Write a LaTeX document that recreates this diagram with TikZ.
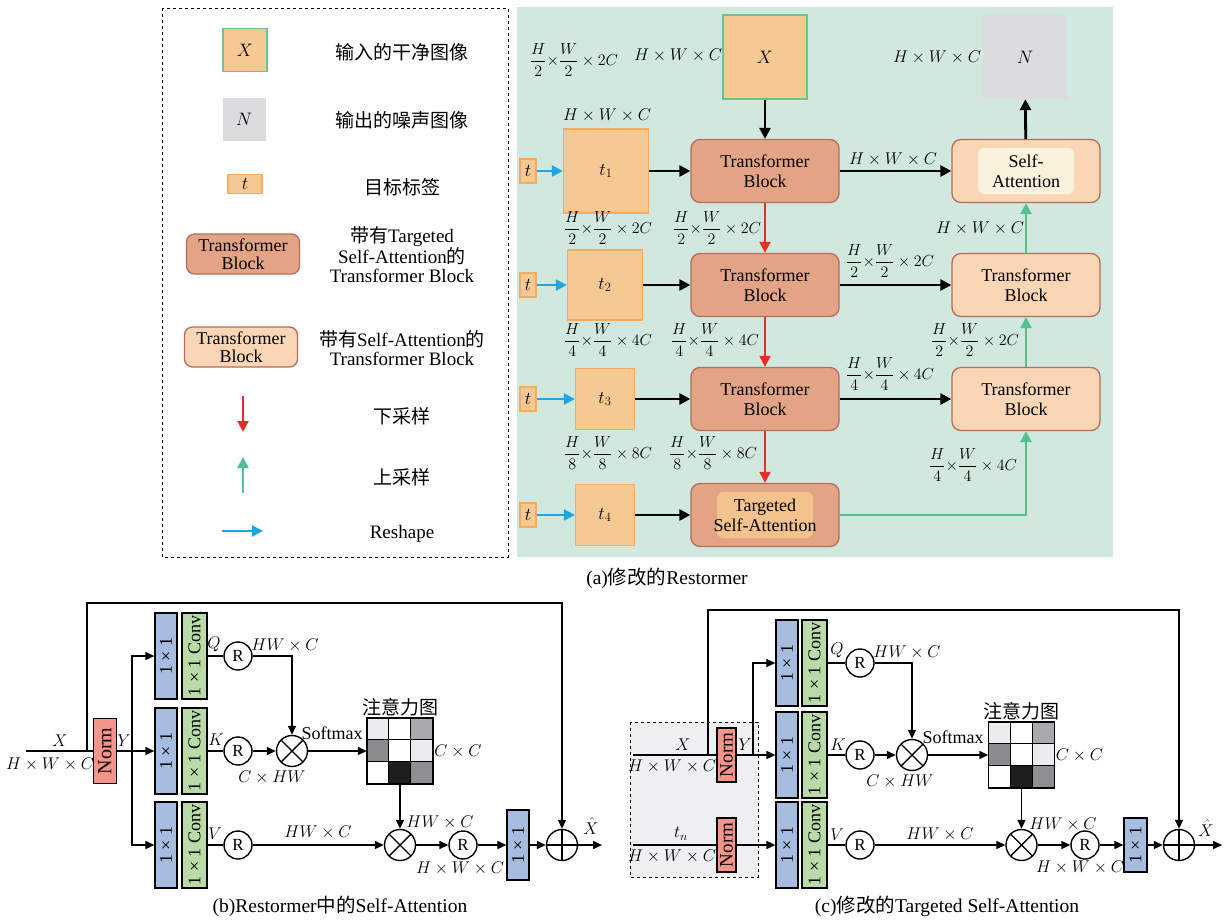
\RequirePackage{fix-cm}
\documentclass[tikz,border=0pt]{standalone}
\usepackage{fontspec}
\setmainfont{Liberation Serif}
\newfontfamily\cjk{Noto Sans CJK SC}
\usetikzlibrary{arrows.meta,calc}

\definecolor{bggreen}{RGB}{209,232,223}
\definecolor{imgfill}{RGB}{247,201,146}
\definecolor{tagline}{RGB}{243,172,98}
\definecolor{xline}{RGB}{104,196,146}
\definecolor{noisegray}{RGB}{220,220,222}
\definecolor{tbdarkfill}{RGB}{227,164,134}
\definecolor{tbline}{RGB}{180,108,92}
\definecolor{tblightfill}{RGB}{251,214,180}
\definecolor{sainner}{RGB}{251,242,222}
\definecolor{tsainner}{RGB}{244,194,140}
\definecolor{downred}{RGB}{232,44,38}
\definecolor{upgreen}{RGB}{84,192,143}
\definecolor{reshapeblue}{RGB}{35,163,224}
\definecolor{normred}{RGB}{243,150,137}
\definecolor{oneblue}{RGB}{167,189,224}
\definecolor{convgreen}{RGB}{184,219,168}
\definecolor{boxgray}{RGB}{239,240,242}
\definecolor{cellA}{RGB}{236,236,238}
\definecolor{cellB}{RGB}{168,169,173}
\definecolor{cellC}{RGB}{138,139,142}
\definecolor{cellD}{RGB}{30,30,30}
\definecolor{cellE}{RGB}{142,143,147}

\newcommand\hwc{$H\times W\times C$}
\newcommand\dimfrac[2]{$\displaystyle\frac{H}{#1}{\times}\frac{W}{#1}\times #2C$}

\begin{document}
\begin{tikzpicture}[x=1pt, y=-1pt, font=\fontsize{18}{20}\selectfont,
    imgbox/.style={rectangle, minimum width=84, minimum height=84, inner sep=0},
    tagbox/.style={rectangle, draw=tagline, fill=imgfill, line width=1.2, inner sep=0},
    tbdark/.style={rectangle, rounded corners=9, draw=tbline, fill=tbdarkfill, line width=1.3, minimum width=148, minimum height=63, inner sep=1, align=center},
    tblight/.style={tbdark, fill=tblightfill},
    innerfill/.style={path picture={\fill[#1, rounded corners=6] ([xshift=-48pt, yshift=23pt]path picture bounding box.center) rectangle ([xshift=48pt, yshift=-23pt]path picture bounding box.center);}},
    dimlabel/.style={inner sep=1, font=\fontsize{17}{19}\selectfont},
    fraclabel/.style={inner sep=1, font=\fontsize{16}{18}\selectfont},
    legtext/.style={align=center, font=\fontsize{19}{19}\selectfont},
    flow/.style={line width=2.8, -{Triangle[length=11pt,width=11pt]}},
    downflow/.style={flow, line width=2.2, downred},
    upflow/.style={flow, line width=2.4, upgreen},
    reshapeflow/.style={flow, line width=2.4, reshapeblue},
    thinline/.style={line width=1.6},
    arr/.style={thinline, -{Triangle[length=9pt,width=8pt]}},
    normbox/.style={draw, line width=1.2, fill=normred, inner sep=0},
    onebox/.style={draw, line width=1.2, fill=oneblue, minimum width=22, minimum height=86, inner sep=0},
    convbox/.style={draw, line width=1.2, fill=convgreen, minimum width=25, minimum height=86, inner sep=0},
    rnode/.style={circle, draw, line width=1.4, minimum size=28, inner sep=0, font=\fontsize{17}{17}\selectfont},
    mulnode/.style={circle, draw, line width=1.4, minimum size=31, inner sep=0,
        path picture={\draw[line width=1.4] (path picture bounding box.north west) -- (path picture bounding box.south east)
            (path picture bounding box.north east) -- (path picture bounding box.south west);}},
    addnode/.style={circle, draw, line width=1.4, minimum size=31, inner sep=0,
        path picture={\draw[line width=1.4] (path picture bounding box.north) -- (path picture bounding box.south)
            (path picture bounding box.east) -- (path picture bounding box.west);}},
    captext/.style={font=\fontsize{19.5}{20}\selectfont},
]
\useasboundingbox (0,0) rectangle (1227,919);

% (a) legend and background
\fill[bggreen] (517,7) rectangle (1113,557);
\draw[dashed, line width=0.9] (162,8) rectangle (508,557);

\node[imgbox, minimum width=44, minimum height=43, draw=xline, fill=imgfill, line width=1.5] (lgx) at (245,50) {$X$};
\node[legtext] (lgxt) at (402,52) {\cjk 输入的干净图像};
\node[imgbox, minimum width=43, minimum height=43, fill=noisegray] (lgn) at (244,119) {$N$};
\node[legtext] (lgnt) at (402,120) {\cjk 输出的噪声图像};
\node[tagbox, minimum width=34, minimum height=19] (lgt) at (245,184) {$t$};
\node[legtext] (lgtt) at (402,187) {\cjk 目标标签};
\node[tbdark, minimum width=113, minimum height=40, rounded corners=8, font=\fontsize{18}{18}\selectfont] (lgtb) at (243,254) {Transformer\\Block};
\node[legtext] (lgtbt) at (402,255) {{\cjk 带有}Targeted\\Self-Attention{\cjk 的}\\Transformer Block};
\node[tblight, minimum width=113, minimum height=40, rounded corners=8, font=\fontsize{18}{18}\selectfont] (lgsa) at (241,347) {Transformer\\Block};
\node[legtext] (lgsat) at (402,348) {{\cjk 带有}Self-Attention{\cjk 的}\\Transformer Block};
\coordinate (lgd1) at (243,396);
\coordinate (lgd2) at (243,432);
\draw[downflow] (lgd1) -- (lgd2);
\node[legtext] (lgdt) at (402,416) {\cjk 下采样};
\coordinate (lgu1) at (243,493);
\coordinate (lgu2) at (243,457);
\draw[upflow] (lgu1) -- (lgu2);
\node[legtext] (lgut) at (402,477) {\cjk 上采样};
\coordinate (lgr1) at (222,531);
\coordinate (lgr2) at (263,531);
\draw[reshapeflow] (lgr1) -- (lgr2);
\node[legtext] (lgrt) at (402,534) {Reshape};

% (a) network
\node[imgbox, draw=xline, fill=imgfill, line width=1.5] (xin) at (765,57) {$X$};
\node[imgbox, fill=noisegray] (nout) at (1025,57) {$N$};

\node[tbdark] (tb1) at (765,171) {Transformer\\Block};
\node[tbdark] (tb2) at (765,285) {Transformer\\Block};
\node[tbdark] (tb3) at (765,399) {Transformer\\Block};
\node[tbdark, innerfill=tsainner] (tsa) at (765,515) {Targeted\\Self-Attention};
\node[tblight, innerfill=sainner] (sa) at (1026,171) {Self-\\Attention};
\node[tblight] (rtb2) at (1026,285) {Transformer\\Block};
\node[tblight] (rtb3) at (1026,399) {Transformer\\Block};

\node[tagbox, minimum width=85, minimum height=84] (t1) at (606,171) {$t_1$};
\node[tagbox, minimum width=75, minimum height=70] (t2) at (605,285) {$t_2$};
\node[tagbox, minimum width=59, minimum height=61] (t3) at (605,399) {$t_3$};
\node[tagbox, minimum width=59, minimum height=61] (t4) at (605,515) {$t_4$};
\foreach \i/\y in {1/171, 2/285, 3/399, 4/515} {
    \node[tagbox, minimum width=16, minimum height=24] (ts\i) at (528,\y) {$t$};
    \draw[reshapeflow] (ts\i) -- (t\i);
}
\foreach \i in {1,2,3}
    \draw[flow] (t\i) -- (tb\i);
\draw[flow] (t4) -- (tsa);

\draw[flow] (xin) -- (tb1);
\draw[downflow] (tb1) -- (tb2);
\draw[downflow] (tb2) -- (tb3);
\draw[downflow] (tb3) -- (tsa);
\draw[flow] (tb1) -- (sa);
\draw[flow] (tb2) -- (rtb2);
\draw[flow] (tb3) -- (rtb3);
\draw[upflow] (tsa) -| (rtb3);
\draw[upflow] (rtb3) -- (rtb2);
\draw[upflow] (rtb2) -- (sa);
\draw[flow] (sa) -- (nout);

\node[fraclabel] at (574,60) {\dimfrac{2}{2}};
\node[dimlabel] at (678,55) {\hwc};
\node[dimlabel] at (937,57) {\hwc};
\node[dimlabel] at (607,115) {\hwc};
\node[fraclabel] at (608,228) {\dimfrac{2}{2}};
\node[fraclabel] at (717,228) {\dimfrac{2}{2}};
\node[fraclabel] at (608,340) {\dimfrac{4}{4}};
\node[fraclabel] at (715,340) {\dimfrac{4}{4}};
\node[fraclabel] at (608,453) {\dimfrac{8}{8}};
\node[fraclabel] at (713,453) {\dimfrac{8}{8}};
\node[dimlabel] at (893,159) {\hwc};
\node[fraclabel] at (890,261) {\dimfrac{2}{2}};
\node[fraclabel] at (890,374) {\dimfrac{4}{4}};
\node[dimlabel] at (980,228) {\hwc};
\node[fraclabel] at (975,340) {\dimfrac{2}{2}};
\node[fraclabel] at (973,465) {\dimfrac{4}{4}};

\node[captext] at (667,578) {(a){\cjk 修改的}Restormer};

% (b) Self-Attention
\coordinate (bin) at (26,751);
\coordinate (bsk) at (87,751);
\coordinate (bbr) at (132,751);
\node[normbox, minimum width=23, minimum height=65, font=\fontsize{20}{20}\selectfont] (bn) at (105,751) {\rotatebox{90}{Norm}};
\draw[thinline] (bin) -- (bn);
\draw[thinline] (bn) -- (bbr);
\node[dimlabel] at (60,741) {$X$};
\node[dimlabel] at (50,764) {\hwc};
\node[dimlabel] at (124,741) {$Y$};

\node[onebox] (bq1) at (166,656) {\rotatebox{90}{1 × 1}};
\node[convbox] (bqc) at (194.5,656) {\rotatebox{90}{1 × 1 Conv}};
\node[onebox] (bk1) at (166,751) {\rotatebox{90}{1 × 1}};
\node[convbox] (bkc) at (194.5,751) {\rotatebox{90}{1 × 1 Conv}};
\node[onebox] (bv1) at (166,845) {\rotatebox{90}{1 × 1}};
\node[convbox] (bvc) at (194.5,845) {\rotatebox{90}{1 × 1 Conv}};
\draw[arr] (bbr) |- (bq1);
\draw[arr] (bbr) -- (bk1);
\draw[arr] (bbr) |- (bv1);

\node[rnode] (brq) at (238,656) {R};
\node[rnode] (brk) at (238,751) {R};
\node[rnode] (brv) at (238,845) {R};
\draw[thinline] (bqc) -- (brq);
\draw[thinline] (bkc) -- (brk);
\draw[thinline] (bvc) -- (brv);
\node[dimlabel] at (214,644) {$Q$};
\node[dimlabel] at (216,740) {$K$};
\node[dimlabel] at (215,834) {$V$};

\node[mulnode] (bm1) at (292,751) {};
\draw[arr] (brq) -| (bm1);
\draw[arr] (brk) -- (bm1);
\node[dimlabel] at (285,645) {$HW\times C$};
\node[dimlabel] at (272,777) {$C\times HW$};
\node[inner sep=1] at (332,733) {Softmax};

\node[minimum size=66, inner sep=0] (bmap) at (400,751) {};
\node[mulnode] (bm2) at (400,845) {};
\node[rnode] (br3) at (463,845) {R};
\node[onebox, minimum height=70] (bo) at (518,845) {\rotatebox{90}{1 × 1}};
\node[addnode] (bad) at (562,845) {};
\coordinate (bout) at (602,845);
\draw[arr] (bm1) -- (bmap);
\draw[arr] (bmap) -- (bm2);
\draw[arr] (brv) -- (bm2);
\draw[arr] (bm2) -- (br3);
\draw[arr] (br3) -- (bo);
\draw[arr] (bo) -- (bad);
\draw[arr] (bad) -- (bout);
\draw[arr] (bsk) -- ++(0,-148) -| (bad);
\node[dimlabel] at (318,832) {$HW\times C$};
\node[dimlabel] at (440,822) {$HW\times C$};
\node[dimlabel] at (460,868) {\hwc};
\node[dimlabel] at (591,826) {$\hat{X}$};

\node[captext] at (340,906) {(b)Restormer{\cjk 中的}Self-Attention};

% (c) Targeted Self-Attention
\draw[dashed, fill=boxgray, line width=1] (630,722) rectangle (758,877);
\coordinate (cin) at (633,755);
\coordinate (ctin) at (633,845);
\coordinate (csk) at (708,755);
\coordinate (cbr) at (753,755);
\node[normbox, minimum width=19, minimum height=54, font=\fontsize{19}{19}\selectfont] (cn1) at (726.5,755) {\rotatebox{90}{Norm}};
\node[normbox, minimum width=19, minimum height=54, font=\fontsize{19}{19}\selectfont] (cn2) at (726.5,845) {\rotatebox{90}{Norm}};
\draw[thinline] (cin) -- (cn1);
\draw[thinline] (ctin) -- (cn2);
\draw[thinline] (cn1) -- (cbr);
\node[dimlabel] at (683,745) {$X$};
\node[dimlabel] at (672,766) {\hwc};
\node[dimlabel] at (681,834) {$t_n$};
\node[dimlabel] at (672,856) {\hwc};
\node[dimlabel] at (745,745) {$Y$};

\node[onebox] (cq1) at (787,663) {\rotatebox{90}{1 × 1}};
\node[convbox] (cqc) at (814.5,663) {\rotatebox{90}{1 × 1 Conv}};
\node[onebox] (ck1) at (787,755) {\rotatebox{90}{1 × 1}};
\node[convbox] (ckc) at (814.5,755) {\rotatebox{90}{1 × 1 Conv}};
\node[onebox] (cv1) at (787,845) {\rotatebox{90}{1 × 1}};
\node[convbox] (cvc) at (814.5,845) {\rotatebox{90}{1 × 1 Conv}};
\draw[arr] (cbr) |- (cq1);
\draw[arr] (cbr) -- (ck1);
\draw[arr] (cn2) -- (cv1);

\node[rnode] (crq) at (860,663) {R};
\node[rnode] (crk) at (860,755) {R};
\node[rnode] (crv) at (860,845) {R};
\draw[thinline] (cqc) -- (crq);
\draw[thinline] (ckc) -- (crk);
\draw[thinline] (cvc) -- (crv);
\node[dimlabel] at (837,650) {$Q$};
\node[dimlabel] at (838,745) {$K$};
\node[dimlabel] at (837,835) {$V$};

\node[mulnode] (cm1) at (912,755) {};
\draw[arr] (crq) -| (cm1);
\draw[arr] (crk) -- (cm1);
\node[dimlabel] at (907,652) {$HW\times C$};
\node[dimlabel] at (900,781) {$C\times HW$};
\node[inner sep=1] at (953,737) {Softmax};

\node[minimum size=66, inner sep=0] (cmap) at (1021.5,755) {};
\node[mulnode] (cm2) at (1021.5,845) {};
\node[rnode] (cr3) at (1085,845) {R};
\node[onebox, minimum width=23, minimum height=54] (co) at (1135.5,845) {\rotatebox{90}{1 × 1}};
\node[addnode] (cad) at (1179,845) {};
\coordinate (cout) at (1222,845);
\draw[arr] (cm1) -- (cmap);
\draw[arr] (cmap) -- (cm2);
\draw[arr] (crv) -- (cm2);
\draw[arr] (cm2) -- (cr3);
\draw[arr] (cr3) -- (co);
\draw[arr] (co) -- (cad);
\draw[arr] (cad) -- (cout);
\draw[arr] (csk) -- ++(0,-145) -| (cad);
\node[dimlabel] at (940,834) {$HW\times C$};
\node[dimlabel] at (1063,824) {$HW\times C$};
\node[dimlabel] at (1080,867) {\hwc};
\node[dimlabel] at (1206,828) {$\hat{X}$};

% attention maps
\foreach \m in {bmap, cmap} {
    \foreach \cc/\rr/\kk in {cellA/0/0, white/0/1, cellB/0/2, cellC/1/0, white/1/1, cellA/1/2, white/2/0, cellD/2/1, cellE/2/2}
        \filldraw[fill=\cc, draw=black, line width=0.8] ($(\m.north west)+(\kk*22,\rr*22)$) rectangle ++(22,22);
    \draw[line width=1.5] (\m.north west) rectangle (\m.south east);
    \node[anchor=south, inner sep=2, font=\fontsize{19}{19}\selectfont\cjk] at (\m.north) {注意力图};
    \node[dimlabel, anchor=west] at (\m.east) {$C\times C$};
}

\node[captext] at (947,906) {(c){\cjk 修改的}Targeted Self-Attention};

\end{tikzpicture}
\end{document}
